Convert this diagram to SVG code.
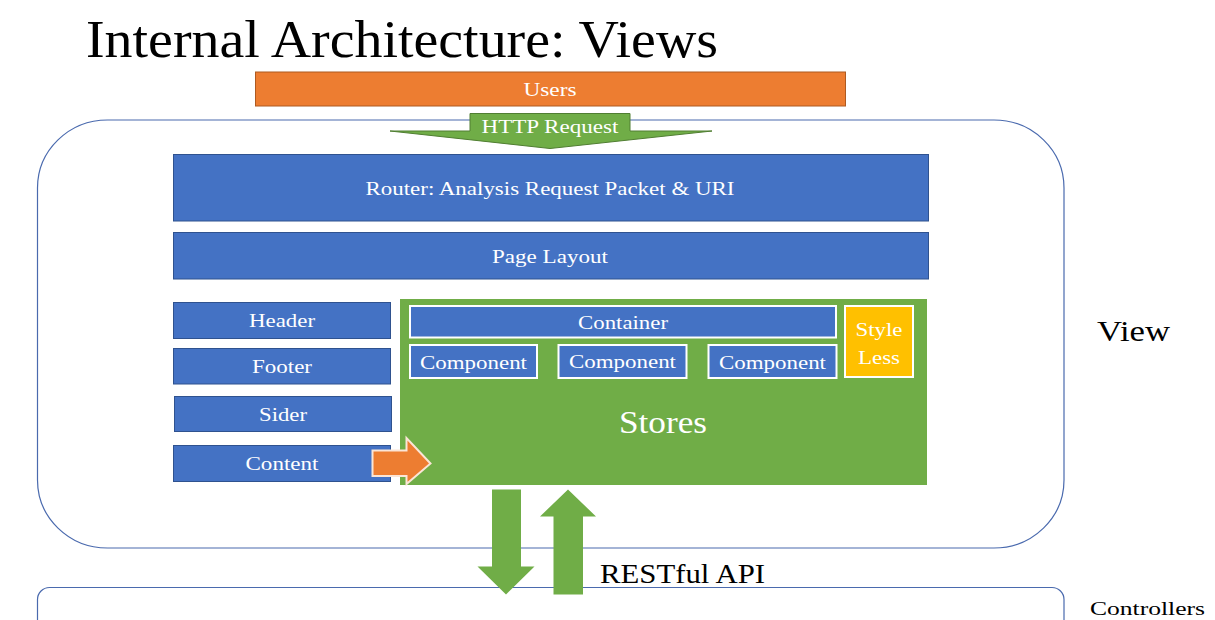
<svg xmlns="http://www.w3.org/2000/svg" width="1215" height="620" viewBox="0 0 1215 620">
<style>
text { font-family: Liberation Serif, Tinos, Times New Roman, Times, DejaVu Serif, serif; }
.w { fill: #ffffff; text-anchor: middle; font-size: 18.5px; }
.blue { fill: #4472C4; stroke: #2F528F; stroke-width: 1; }
.inner { fill: #4472C4; stroke: #ffffff; stroke-width: 2; }
.frame { fill: none; stroke: #4A6AAE; stroke-width: 1.2; }
.green { fill: #70AD47; }
.blk { fill: #000000; }
</style>
<rect width="1215" height="620" fill="#ffffff"/>
<text class="blk" x="86" y="57" font-size="52" textLength="632" lengthAdjust="spacingAndGlyphs">Internal Architecture: Views</text>

<g id="view-frame">
<rect class="frame" x="37.5" y="120" width="1026.5" height="428" rx="70" ry="68"/>
<text class="blk" x="1097" y="341" font-size="29.5" textLength="73" lengthAdjust="spacingAndGlyphs">View</text>
</g>
<g id="controllers-frame">
<rect class="frame" x="37.5" y="587.5" width="1026.5" height="60" rx="12" ry="12"/>
<text class="blk" x="1090" y="615" font-size="19.5" textLength="115" lengthAdjust="spacingAndGlyphs">Controllers</text>
</g>

<g id="users">
<rect x="255.5" y="72" width="590" height="34" fill="#ED7D31" stroke="#AE5A21" stroke-width="1"/>
<text class="w" x="550" y="96" textLength="53" lengthAdjust="spacingAndGlyphs">Users</text>
</g>

<g id="router">
<rect class="blue" x="173.5" y="154.5" width="755" height="66.5"/>
<text class="w" x="550" y="195" textLength="369" lengthAdjust="spacingAndGlyphs">Router: Analysis Request Packet &amp; URI</text>
</g>
<g id="page-layout">
<rect class="blue" x="173.5" y="232.5" width="755" height="46.5"/>
<text class="w" x="550" y="263" textLength="116" lengthAdjust="spacingAndGlyphs">Page Layout</text>
</g>
<g id="header">
<rect class="blue" x="173.5" y="302.5" width="217" height="36"/>
<text class="w" x="282" y="327" textLength="66" lengthAdjust="spacingAndGlyphs">Header</text>
</g>
<g id="footer">
<rect class="blue" x="173.5" y="348.5" width="217" height="35.5"/>
<text class="w" x="282" y="373" textLength="60" lengthAdjust="spacingAndGlyphs">Footer</text>
</g>
<g id="sider">
<rect class="blue" x="174.5" y="396.5" width="217" height="35"/>
<text class="w" x="283" y="421" textLength="48" lengthAdjust="spacingAndGlyphs">Sider</text>
</g>
<g id="content">
<rect class="blue" x="173.5" y="445.5" width="217" height="36"/>
<text class="w" x="282" y="470" textLength="73" lengthAdjust="spacingAndGlyphs">Content</text>
</g>

<g id="stores">
<rect class="green" x="400" y="299" width="527" height="186"/>
<text x="663" y="433" fill="#ffffff" font-size="30.5" text-anchor="middle" textLength="88" lengthAdjust="spacingAndGlyphs">Stores</text>
</g>
<g id="container">
<rect class="inner" x="410" y="306" width="426" height="31.5"/>
<text class="w" x="623" y="329" textLength="90" lengthAdjust="spacingAndGlyphs">Container</text>
</g>
<g id="component-1">
<rect class="inner" x="410" y="345" width="127" height="33"/>
<text class="w" x="473.5" y="369" font-size="19.5" textLength="107" lengthAdjust="spacingAndGlyphs">Component</text>
</g>
<g id="component-2">
<rect class="inner" x="558.5" y="345" width="128" height="33"/>
<text class="w" x="622.5" y="368" font-size="19.5" textLength="107" lengthAdjust="spacingAndGlyphs">Component</text>
</g>
<g id="component-3">
<rect class="inner" x="708.5" y="345" width="128" height="33"/>
<text class="w" x="772.5" y="369" font-size="19.5" textLength="107" lengthAdjust="spacingAndGlyphs">Component</text>
</g>
<g id="style-less">
<rect x="845" y="306" width="68" height="71" fill="#FFC000" stroke="#ffffff" stroke-width="2"/>
<text class="w" x="879" y="336" textLength="47" lengthAdjust="spacingAndGlyphs">Style</text>
<text class="w" x="879" y="364" textLength="42" lengthAdjust="spacingAndGlyphs">Less</text>
</g>

<g id="connectors">
<g id="http-request">
<polygon points="470,113.5 630,113.5 630,131 712,131 550,148.5 390,131 470,131" fill="#70AD47" stroke="#507E32" stroke-width="1"/>
<text class="w" x="550" y="133" textLength="137" lengthAdjust="spacingAndGlyphs">HTTP Request</text>
</g>
<polygon points="372.5,450.5 406.5,450.5 406.5,438 430.5,463.5 406.5,484 406.5,476 372.5,476" fill="#ED7D31" stroke="#FBE5D6" stroke-width="2"/>
<polygon points="492,489.5 521,489.5 521,566.5 534.5,566.5 506,594.5 477.5,566.5 492,566.5" fill="#70AD47"/>
<polygon points="568,489.5 596,516.5 583,516.5 583,594.5 553.5,594.5 553.5,516.5 540,516.5" fill="#70AD47"/>
<text class="blk" x="600" y="583" font-size="27" textLength="165" lengthAdjust="spacingAndGlyphs">RESTful API</text>
</g>
</svg>
